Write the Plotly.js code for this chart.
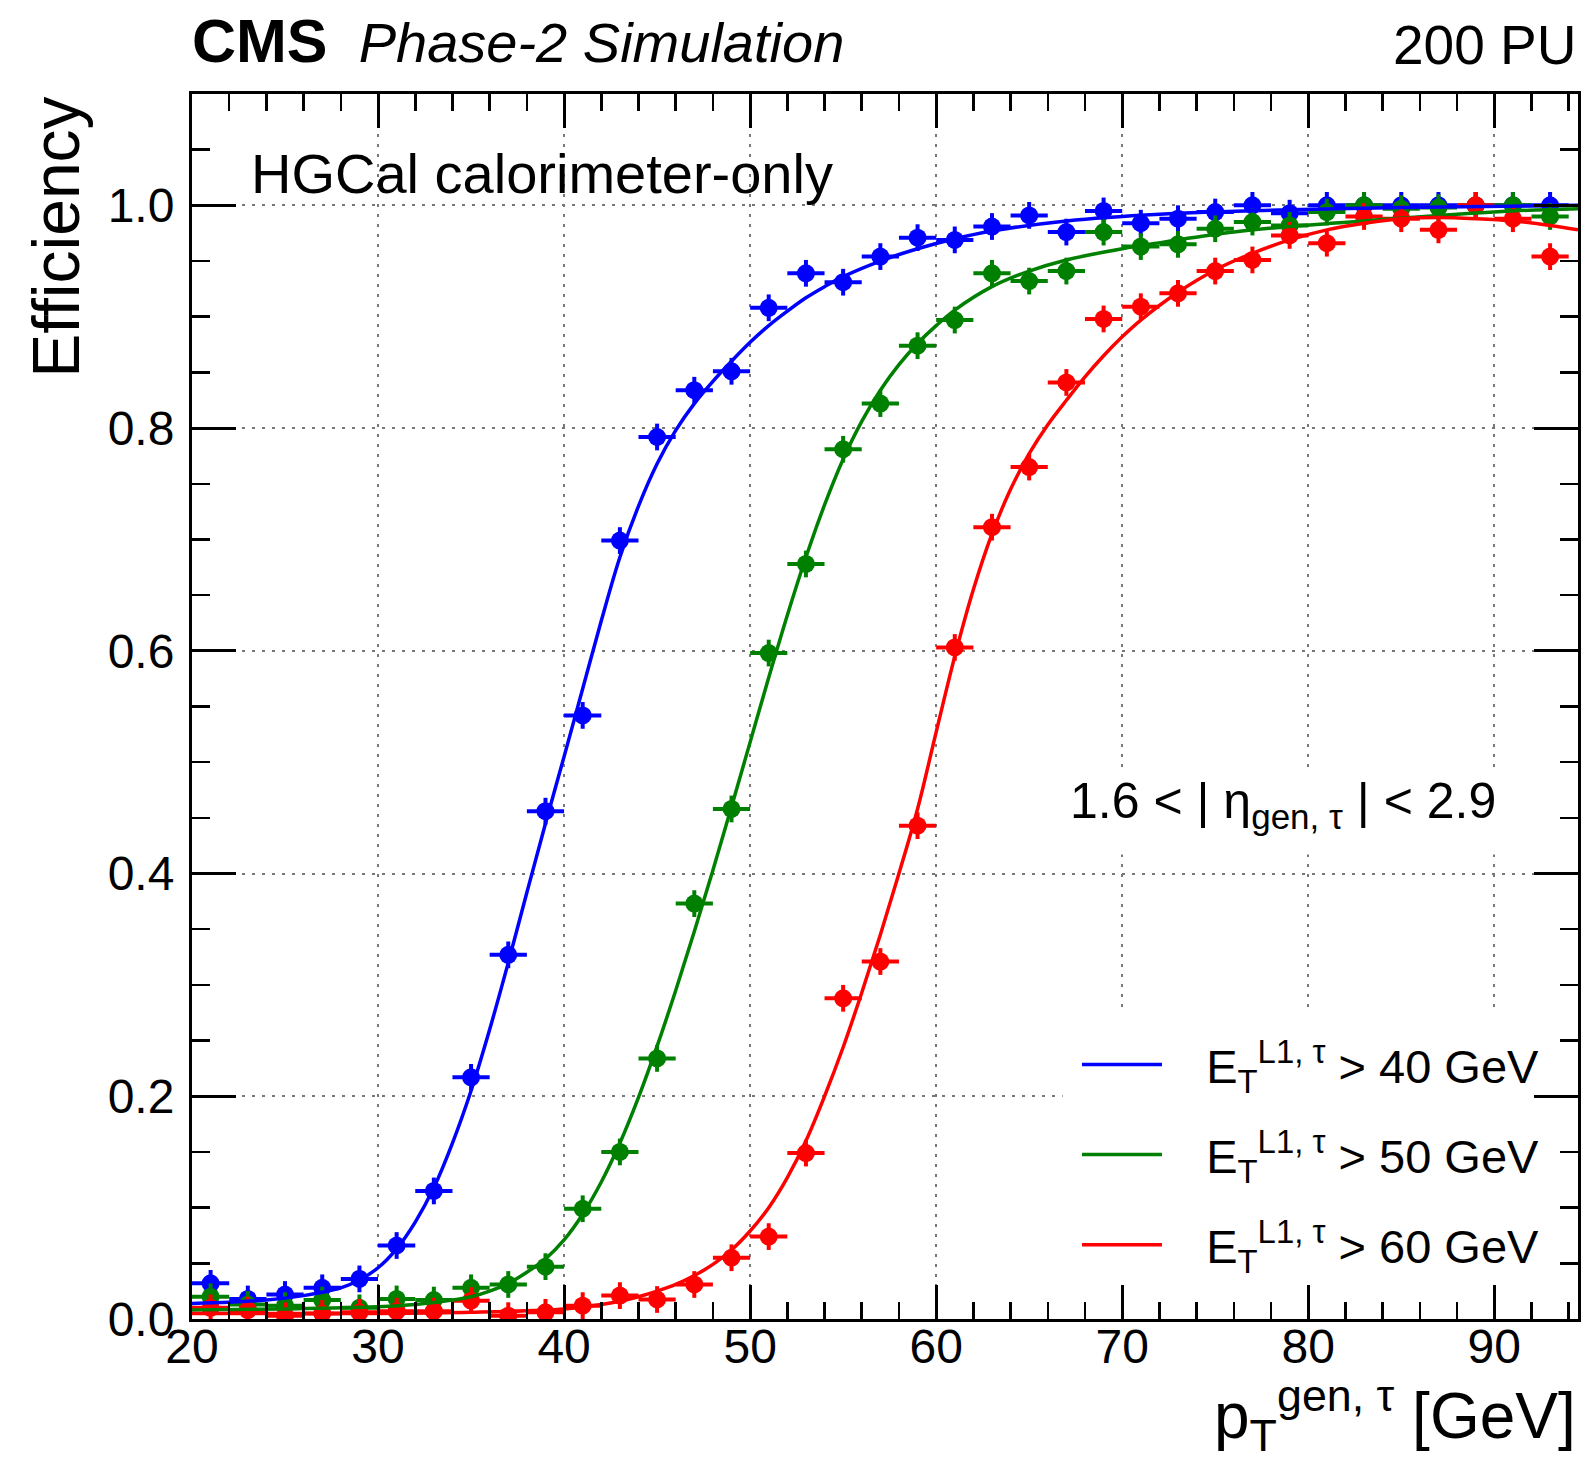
<!DOCTYPE html>
<html><head><meta charset="utf-8">
<script src="https://cdn.plot.ly/plotly-3.0.1.min.js"></script>
<style>html,body{margin:0;padding:0;background:#fff;} #chart{width:1582px;height:1461px;}</style>
</head><body><div id="chart"></div>
<script>
// ---- data ----
const binCenters = [21,23,25,27,29,31,33,35,37,39,41,43,45,47,49,51,53,55,57,59,61,63,65,67,69,71,73,75,77,79,81,83,85,87,89,91,93];
const binHalfWidth = 1;

const effL1Tau40 = [0.032,0.018,0.022,0.028,0.036,0.066,0.115,0.217,0.327,0.456,0.542,0.699,0.792,0.834,0.851,0.908,0.939,0.931,0.954,0.971,0.969,0.981,0.991,0.976,0.995,0.984,0.988,0.994,1.0,0.993,1.0,1.0,1.0,1.0,1.0,1.0,1.0];
const effL1Tau50 = [0.020,0.013,0.012,0.017,0.010,0.018,0.017,0.028,0.031,0.047,0.099,0.150,0.234,0.373,0.458,0.598,0.678,0.781,0.822,0.874,0.897,0.939,0.932,0.941,0.976,0.963,0.965,0.979,0.985,0.982,0.994,1.0,0.997,0.998,1.0,1.0,0.990];
const effL1Tau60 = [0.010,0.008,0.003,0.005,0.006,0.007,0.007,0.0165,0.003,0.006,0.012,0.021,0.0175,0.031,0.055,0.074,0.149,0.288,0.321,0.443,0.603,0.711,0.765,0.841,0.898,0.909,0.921,0.941,0.951,0.973,0.966,0.990,0.988,0.978,1.0,0.988,0.954];

// fitted turn-on curves
const fit40X = [20,22,24,26,27,28,29,30,31,32,33,34,35,36,37,38,39,40,41,42,43,44,45,46,47,48,49,50,51,52,53,54,55,57,59,61,63,67,72,79,85,94.5];
const fit40Y = [0.014,0.015,0.017,0.021,0.024,0.028,0.035,0.046,0.063,0.087,0.118,0.158,0.205,0.260,0.320,0.383,0.445,0.505,0.566,0.627,0.684,0.730,0.768,0.798,0.822,0.842,0.860,0.877,0.892,0.905,0.917,0.927,0.936,0.950,0.961,0.970,0.977,0.986,0.992,0.996,0.998,1.0];

const fit50X = [20,25,30,32,34,35,36,37,38,39,40,41,42,43,44,45,46,47,48,49,50,51,52,53,54,55,56,57,58,59,60,61,63,65,67,70,73,76,79,83,87,91,94.5];
const fit50Y = [0.008,0.009,0.011,0.013,0.017,0.020,0.025,0.032,0.042,0.054,0.071,0.094,0.123,0.158,0.199,0.245,0.295,0.348,0.403,0.460,0.518,0.576,0.632,0.684,0.731,0.772,0.806,0.834,0.857,0.876,0.892,0.906,0.927,0.941,0.951,0.961,0.969,0.976,0.981,0.986,0.991,0.995,0.997];

const fit60X = [20,30,35,40,42,43,44,45,46,47,48,49,50,51,52,53,54,55,56,57,58,59,60,61,62,63,64,65,66,67,68,69,70,71,73,75,77,79,81,83,85,87,89,91,93,94.5];
const fit60Y = [0.005,0.005,0.006,0.009,0.013,0.016,0.020,0.025,0.031,0.039,0.049,0.062,0.079,0.100,0.127,0.160,0.200,0.244,0.293,0.345,0.400,0.458,0.527,0.595,0.655,0.705,0.745,0.777,0.803,0.825,0.846,0.865,0.882,0.897,0.922,0.942,0.957,0.969,0.978,0.984,0.988,0.989,0.988,0.986,0.982,0.978];

const legendLabels = [
  'E<sub>T</sub><sup>L1, τ</sup> > 40 GeV',
  'E<sub>T</sub><sup>L1, τ</sup> > 50 GeV',
  'E<sub>T</sub><sup>L1, τ</sup> > 60 GeV'
];
const seriesColors = ['#0000ff', '#008000', '#ff0000'];
const xTickVals = [20,30,40,50,60,70,80,90];
const yTickVals = [0,0.2,0.4,0.6,0.8,1.0];

// ---- traces ----
const effs = [effL1Tau40, effL1Tau50, effL1Tau60];
const fitsX = [fit40X, fit50X, fit60X];
const fitsY = [fit40Y, fit50Y, fit60Y];

const traces = [];
for (let i = 0; i < 3; i++) {
  traces.push({
    type: 'scatter', mode: 'markers', x: binCenters, y: effs[i],
    marker: {color: seriesColors[i], size: 18, line: {width: 0}},
    error_x: {type: 'constant', value: binHalfWidth, thickness: 4, width: 0, color: seriesColors[i]},
    error_y: {type: 'constant', value: 0.012, thickness: 4, width: 0, color: seriesColors[i]},
    showlegend: false, hoverinfo: 'x+y'
  });
}
for (let i = 0; i < 3; i++) {
  traces.push({
    type: 'scatter', mode: 'lines', x: fitsX[i], y: fitsY[i],
    line: {color: seriesColors[i], width: 3.5, shape: 'spline', smoothing: 1},
    name: '&nbsp;&nbsp;&nbsp;' + legendLabels[i], showlegend: true, legendgroup: 'g' + i
  });
}

const FONT = 'Liberation Sans, Arial, Helvetica, sans-serif';
const gridStyle = {showgrid: true, gridcolor: '#777', gridwidth: 2, griddash: '3px,7px'};

const layout = {
  width: 1582, height: 1461,
  margin: {l: 192, r: 4, t: 94, b: 142},
  paper_bgcolor: '#fff', plot_bgcolor: '#fff',
  font: {family: FONT, color: '#000', size: 48},
  title: {
    text: '<b><span style="font-size:61px">CMS</span></b>&nbsp; <i><span style="font-size:56px">Phase-2 Simulation</span></i>',
    xref: 'paper', x: 0, xanchor: 'left',
    yref: 'container', y: 0.9713, yanchor: 'middle',
    font: {family: FONT, size: 56, color: '#000'}
  },
  xaxis: Object.assign({
    range: [20, 94.5], tickvals: xTickVals, ticktext: xTickVals.map(String),
    ticks: 'inside', ticklen: 34, tickwidth: 3, tickcolor: '#000',
    showline: true, linewidth: 3, linecolor: '#000', mirror: 'ticks',
    zeroline: false, tickfont: {size: 48, family: FONT},
    ticklabelstandoff: -17,
    minor: {dtick: 2, ticks: 'inside', ticklen: 17, tickwidth: 2.5, tickcolor: '#000', showgrid: false}
  }, gridStyle),
  yaxis: Object.assign({
    range: [0, 1.1], tickvals: yTickVals, ticktext: yTickVals.map(v => v.toFixed(1)),
    ticks: 'inside', ticklen: 44, tickwidth: 3, tickcolor: '#000',
    showline: true, linewidth: 3, linecolor: '#000', mirror: 'ticks',
    zeroline: false, tickfont: {size: 48, family: FONT},
    ticklabelstandoff: 5,
    minor: {dtick: 0.05, ticks: 'inside', ticklen: 18, tickwidth: 2.5, tickcolor: '#000', showgrid: false}
  }, gridStyle),
  showlegend: true,
  legend: {
    x: 0.6385, y: 0.238, xanchor: 'left', yanchor: 'top',
    bgcolor: 'rgba(0,0,0,0)', borderwidth: 0,
    font: {family: FONT, size: 47, color: '#000'},
    itemwidth: 80, tracegroupgap: 26, traceorder: 'grouped'
  },
  shapes: [
    // white boxes behind the legend and the eta label (hide the grid there)
    {type: 'rect', layer: 'between', xref: 'x', yref: 'y', x0: 66.8, x1: 93.35, y0: 0.023, y1: 0.28,
     fillcolor: '#fff', line: {width: 0}},
    {type: 'rect', layer: 'between', xref: 'x', yref: 'y', x0: 65.5, x1: 93.35, y0: 0.417, y1: 0.495,
     fillcolor: '#fff', line: {width: 0}}
  ],
  annotations: [
    {text: '200 PU', xref: 'paper', yref: 'paper', x: 1.0, y: 1.040,
     xanchor: 'right', yanchor: 'middle', showarrow: false, font: {family: FONT, size: 55}},
    {text: 'HGCal calorimeter-only', xref: 'paper', yref: 'paper', x: 0.0411, y: 0.9355,
     xanchor: 'left', yanchor: 'middle', showarrow: false, font: {family: FONT, size: 56}},
    {text: '1.6 < | η<sub>gen, τ</sub> | < 2.9', xref: 'paper', yref: 'paper', x: 0.787, y: 0.4196,
     xanchor: 'center', yanchor: 'middle', showarrow: false,
     font: {family: FONT, size: 50}},
    {text: 'Efficiency', xref: 'paper', yref: 'paper', x: -0.098, y: 0.9992,
     xanchor: 'center', yanchor: 'top', textangle: -90, showarrow: false, font: {family: FONT, size: 66}},
    {text: 'p<sub>T</sub><sup>gen, τ</sup> [GeV]', xref: 'paper', yref: 'paper', x: 0.9993, y: -0.1159,
     xanchor: 'right', yanchor: 'bottom', borderpad: 0, showarrow: false, font: {family: FONT, size: 64}}
  ]
};

Plotly.newPlot('chart', traces, layout, {displayModeBar: false, staticPlot: true});
</script></body></html>
